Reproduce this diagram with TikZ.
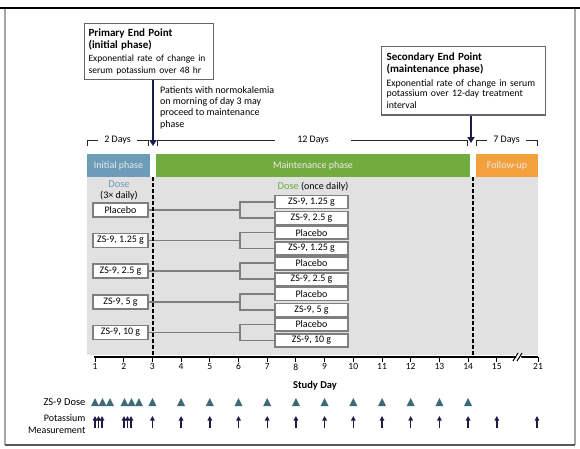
\documentclass[tikz,border=0pt]{standalone}
\usepackage{fontspec}
\setmainfont{Carlito}
\usepackage{xcolor}
\usepackage{tikz}
\usetikzlibrary{arrows.meta, positioning}
\definecolor{initblue}{HTML}{6D9CB9}
\definecolor{maintgreen}{HTML}{72AB3E}
\definecolor{followorange}{HTML}{F4A03D}
\definecolor{panelgray}{HTML}{E1E1E1}
\definecolor{boxgray}{HTML}{7F7F7F}
\definecolor{dosteal}{HTML}{3E6A78}
\definecolor{navyink}{HTML}{1C1C45}

\tikzset{
  dosebox/.style={draw=boxgray, line width=1.6pt, fill=white,
    minimum width=55pt, minimum height=14pt, inner sep=0pt},
  armbox/.style={dosebox, minimum width=73pt, minimum height=13pt},
  link/.style={boxgray, line width=1.6pt},
  phasebar/.style={minimum height=23pt, inner sep=0pt, text=white!92!black},
  endbox/.style={draw=gray!80!black, line width=1.2pt, fill=white,
    align=left, inner sep=5pt, anchor=north west},
  bigarrow/.style={navyink, line width=2.8pt, -{Triangle[length=6pt,width=7pt]}},
  daybracket/.style={gray!30!black, line width=1pt},
  daylab/.style={fill=white, inner ysep=1pt},
  phaseline/.style={black, line width=1.5pt, dash pattern=on 4pt off 2pt},
  kmark/.style={navyink, line width=1.4pt, -{Triangle[length=4.5pt,width=4.5pt]}}
}

\begin{document}
\begin{tikzpicture}[x=1pt, y=-1pt, font=\fontsize{10}{12}\selectfont]
    \useasboundingbox (0,0) rectangle (580,448);

    % Frame
    \draw[gray!70, line width=1.2pt] (5,9) -- (5,445) (575,9) -- (575,445);
    \draw[gray!70!black, line width=2.5pt] (5,445) -- (575,445);
    \draw[black, line width=2pt] (0,8) -- (580,8);

    % End points
    \node[endbox, text width=121pt, inner xsep=4pt, inner ysep=5pt] (prim) at (84,23)
        {{\bfseries\fontsize{11}{12}\selectfont Primary End Point\\(initial phase)}\\[1pt]
         \fontsize{9.5}{12}\selectfont Exponential rate of change in\\serum potassium over 48 hr};
    \node[endbox, text width=154pt, inner ysep=6pt] (sec) at (381,46)
        {{\bfseries\fontsize{11}{11.5}\selectfont Secondary End Point\\(maintenance phase)}\\[3pt]
         \fontsize{9.8}{10.8}\selectfont Exponential rate of change in serum\\potassium over 12-day treatment\\interval};

    \coordinate (d3) at (153,146);
    \coordinate (d14) at (471,143);
    \draw[bigarrow] (prim.south -| d3) -- (d3);
    \draw[bigarrow] (sec.south -| d14) -- (d14);

    \node[anchor=north west, align=left, inner sep=0pt,
          font=\fontsize{10}{11.3}\selectfont] (note) at (160,86)
        {Patients with normokalemia\\on morning of day 3 may\\proceed to maintenance\\phase};

    % Day brackets
    \draw[daybracket] (87,146) |- (148,140) -- (148,146);
    \node[daylab, inner xsep=6pt] (days2) at (117.5,140) {2 Days};
    \draw[daybracket] (157,146) |- (467,140) -- (467,146);
    \node[daylab, inner xsep=22pt] (days12) at (313,140) {12 Days};
    \draw[daybracket] (476,146) |- (537,140) -- (537,146);
    \node[daylab, inner xsep=6pt] (days7) at (506.5,140) {7 Days};

    % Phases
    \fill[panelgray] (87,177) rectangle (538,355);
    \node[phasebar, fill=initblue, minimum width=63pt] (init) at (118.5,165.5) {Initial phase};
    \node[phasebar, fill=maintgreen, minimum width=314pt] (maint) at (313,165.5) {Maintenance phase};
    \node[phasebar, fill=followorange, minimum width=62pt] (follow) at (507,165.5) {Follow-up};

    % Doses
    \node[text=initblue, font=\fontsize{10.5}{12}\selectfont] (dose1) at (119,184) {Dose};
    \node (freq1) at (119,196) {(3× daily)};
    \node (dose2) at (313,187) {\textcolor{maintgreen}{\fontsize{10.5}{12}\selectfont Dose} (once daily)};

    \foreach \i/\arm/\upper/\lower in {1/Placebo/{ZS-9, 1.25 g}/{ZS-9, 2.5 g},
        2/{ZS-9, 1.25 g}/Placebo/{ZS-9, 1.25 g}, 3/{ZS-9, 2.5 g}/Placebo/{ZS-9, 2.5 g},
        4/{ZS-9, 5 g}/Placebo/{ZS-9, 5 g}, 5/{ZS-9, 10 g}/Placebo/{ZS-9, 10 g}} {
        \pgfmathsetmacro{\yc}{210+(\i-1)*30.6}
        \node[dosebox] (arm\i) at (120.5,\yc) {\arm};
        \node[armbox] (up\i) at (311.5,\yc-8) {\upper};
        \node[armbox] (lo\i) at (311.5,\yc+8) {\lower};
        \coordinate (split\i) at (240,\yc);
        \draw[link] (arm\i.east) -- (split\i);
        \draw[link] (up\i.west) -| (split\i) |- (lo\i.west);
    }

    \draw[phaseline] (153,177) -- (153,357);
    \draw[phaseline] (473,177) -- (473,357);

    % Axis
    \draw[line width=1.3pt] (94,357) -- (538,357);
    \foreach \d in {1,...,15} {
        \draw[line width=1pt] ({95+(\d-1)*28.7},357) -- ++(0,5)
            node[below, inner sep=1pt, font=\fontsize{9.5}{10}\selectfont] (tick\d) {\d};
    }
    \draw[line width=1pt] (538,357) -- ++(0,5)
        node[below, inner sep=1pt, font=\fontsize{9.5}{10}\selectfont] (tick21) {21};
    \fill[white] (514,354) -- (519,354) -- (523,360) -- (518,360) -- cycle;
    \draw[line width=1pt] (513,361) -- (518,353) (517,361) -- (522,353);
    \node[font=\bfseries\fontsize{10.5}{12}\selectfont] (studyday) at (315,386) {Study Day};

    % Schedule rows
    \node[anchor=east, font=\fontsize{10.5}{12}\selectfont] (doserow) at (89,402) {ZS-9 Dose};
    \node[anchor=east, align=right, font=\fontsize{10}{11.5}\selectfont] (kmeas) at (89,424)
        {Potassium\\Measurement};
    \foreach \x in {95,102.5,110,124.5,131.5,139}
        \fill[dosteal] ({\x-4},406) -- ({\x+4},406) -- (\x,398) -- cycle;
    \foreach \d in {3,...,14}
        \fill[dosteal] ({95+(\d-1)*28.7-4},406) -- ++(8,0) -- ++(-4,-8) -- cycle;
    \foreach \x in {95,98.5,102,124,127.5,131,496.8,537}
        \draw[kmark] (\x,428) -- (\x,416);
    \foreach \d in {3,...,14}
        \draw[kmark] ({95+(\d-1)*28.7},428) -- ++(0,-12);

\end{tikzpicture}
\end{document}
